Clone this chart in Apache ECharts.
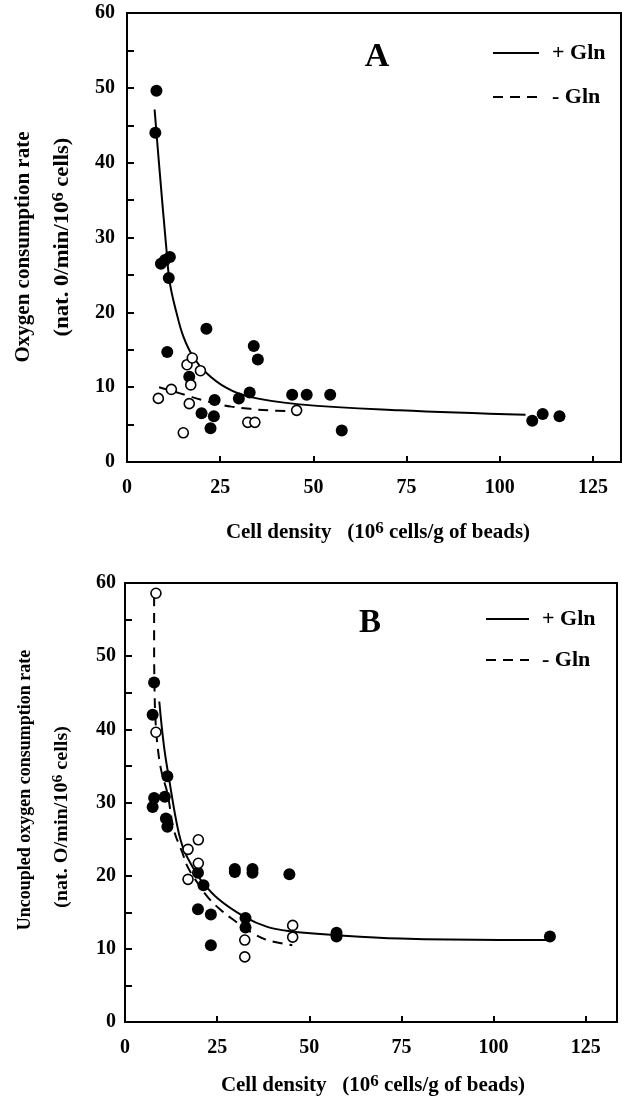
<!DOCTYPE html>
<html>
<head>
<meta charset="utf-8">
<script src="https://cdn.jsdelivr.net/npm/echarts/dist/echarts.min.js"></script>
<style>
  html, body { margin: 0; padding: 0; background: #fff; }
  #chart { width: 622px; height: 1097px; }
</style>
</head>
<body>
<div id="chart"></div>
<script>
// panel A : oxygen consumption rate
var aPlusX = [7.9, 7.6, 9.1, 10.2, 11.5, 11.2, 10.8, 21.3, 34.0, 35.1, 16.7, 23.5, 20.0, 23.3, 22.4, 30.0, 32.9, 44.3, 48.2, 54.5, 57.6, 108.7, 111.5, 116.0];
var aPlusY = [49.6, 44.0, 26.5, 27.0, 27.4, 24.6, 14.7, 17.8, 15.5, 13.7, 11.4, 8.3, 6.5, 6.1, 4.5, 8.5, 9.3, 9.0, 9.0, 9.0, 4.2, 5.5, 6.4, 6.1];
var aMinusX = [8.4, 11.9, 15.1, 16.1, 17.5, 19.7, 17.1, 16.7, 32.4, 34.3, 45.5];
var aMinusY = [8.5, 9.7, 3.9, 13.0, 13.9, 12.2, 10.3, 7.8, 5.3, 5.3, 6.9];
// fitted curves
var aFitPlusX = [7.4, 8.8, 10.6, 11.5, 13.3, 15.1, 17.7, 21.3, 26.7, 32.9, 46.3, 73.0, 106.9];
var aFitPlusY = [47.1, 38.6, 28.3, 23.9, 19.9, 16.8, 14.1, 11.9, 9.9, 8.7, 7.7, 6.9, 6.3];
var aFitMinusX = [8.6, 12, 16, 20, 24, 28, 33, 38, 44.5];
var aFitMinusY = [10.0, 9.5, 8.9, 8.3, 7.8, 7.4, 7.1, 6.9, 6.8];

// panel B : uncoupled oxygen consumption rate
var bPlusX = [7.9, 7.5, 11.5, 7.9, 7.5, 10.8, 11.1, 11.5, 19.8, 21.3, 19.8, 23.3, 23.3, 29.8, 29.8, 34.6, 34.6, 44.6, 32.7, 32.7, 57.4, 57.4, 115.3];
var bPlusY = [46.4, 42.0, 33.6, 30.6, 29.4, 30.8, 27.8, 26.7, 20.4, 18.7, 15.4, 14.7, 10.5, 20.5, 20.9, 20.4, 20.9, 20.2, 14.2, 12.9, 12.2, 11.7, 11.7];
var bMinusX = [8.4, 8.4, 17.1, 19.9, 19.9, 17.1, 32.5, 32.5, 45.5, 45.5];
var bMinusY = [58.6, 39.6, 23.6, 24.9, 21.7, 19.5, 11.2, 8.9, 13.2, 11.6];
var bFitPlusX = [9.3, 10.6, 12.0, 14.3, 16.0, 18.8, 20.6, 25.1, 32.3, 38.6, 44.9, 56.6, 74.7, 101.7, 114.4];
var bFitPlusY = [43.8, 37.6, 33.1, 26.5, 23.5, 20.8, 19.4, 16.9, 14.4, 13.0, 12.4, 11.9, 11.4, 11.2, 11.2];
var bFitMinusX = [7.9, 7.9, 8.0, 8.3, 9.0, 10.0, 11.5, 13.3, 15.6, 17.0, 19.7, 22.4, 26.0, 29.6, 34.1, 38.6, 45.4];
var bFitMinusY = [58.2, 52, 46, 41, 37, 34, 31.3, 26.2, 23.1, 21.2, 19.0, 17.1, 15.3, 13.9, 12.3, 11.2, 10.5];

var xTicks = [0, 25, 50, 75, 100, 125];
var yTicks = [0, 10, 20, 30, 40, 50, 60];

var FONT = 'Liberation Serif';

function pairs(xs, ys) {
  return xs.map(function (x, i) { return [x, ys[i]]; });
}

function xAxisOf(idx, max) {
  return {
    gridIndex: idx, type: 'value', min: 0, max: max, interval: 25,
    axisLine: { show: true, onZero: false, lineStyle: { color: '#000', width: 2 } },
    axisTick: { show: true, inside: true, length: 6, lineStyle: { color: '#000', width: 2 } },
    axisLabel: {
      margin: 16, color: '#000', fontFamily: FONT, fontWeight: 'bold', fontSize: 20,
      formatter: function (v) { return xTicks.indexOf(v) >= 0 ? String(v) : ''; }
    },
    splitLine: { show: false }
  };
}

function yAxisOf(idx, margin) {
  return {
    gridIndex: idx, type: 'value', min: 0, max: 60, interval: 10,
    axisLine: { show: true, lineStyle: { color: '#000', width: 2 } },
    axisTick: { show: true, inside: true, length: 7, lineStyle: { color: '#000', width: 2 } },
    minorTick: { show: true, splitNumber: 2, length: 7, lineStyle: { color: '#000', width: 2 } },
    axisLabel: {
      margin: margin, color: '#000', fontFamily: FONT, fontWeight: 'bold', fontSize: 20,
      formatter: function (v) { return yTicks.indexOf(v) >= 0 ? String(v) : ''; }
    },
    splitLine: { show: false }
  };
}

function filled(idx, name, xs, ys) {
  return {
    name: name, type: 'scatter', xAxisIndex: idx, yAxisIndex: idx,
    data: pairs(xs, ys), symbol: 'circle', symbolSize: 12,
    itemStyle: { color: '#000', opacity: 1 }, z: 4
  };
}

function hollow(idx, name, xs, ys) {
  return {
    name: name, type: 'scatter', xAxisIndex: idx, yAxisIndex: idx,
    data: pairs(xs, ys), symbol: 'circle', symbolSize: 10,
    itemStyle: { color: '#fff', borderColor: '#000', borderWidth: 1.6, opacity: 1 }, z: 5
  };
}

function curve(idx, name, xs, ys, dashed) {
  return {
    name: name, type: 'line', xAxisIndex: idx, yAxisIndex: idx, color: '#000',
    data: pairs(xs, ys), smooth: 0.4, symbol: 'none', showSymbol: false,
    lineStyle: { color: '#000', width: 2, type: dashed ? [10, 7] : 'solid' }, z: 3
  };
}

function legendAt(left, top, w, gap) {
  return {
    data: ['+ Gln', '- Gln'], orient: 'vertical', left: left, top: top,
    itemWidth: w, itemHeight: 14, itemGap: gap, padding: 0,
    selectedMode: false,
    itemStyle: { opacity: 0 },
    lineStyle: { width: 2 },
    textStyle: { color: '#000', fontFamily: FONT, fontWeight: 'bold', fontSize: 22, lineHeight: 22, padding: [0, 0, 0, 8] }
  };
}

function label(x, y, text, size, rot, sx) {
  return {
    type: 'text', x: x, y: y, rotation: rot || 0, scaleX: sx || 1,
    style: {
      text: text, fill: '#000', align: 'center', verticalAlign: 'middle',
      font: 'bold ' + size + 'px "' + FONT + '"',
      rich: {
        s: { fontFamily: FONT, fontWeight: 'bold', fontSize: Math.round(size * 0.8), verticalAlign: 'top', padding: [0, 0, size * 0.4, 0] }
      }
    }
  };
}

var chart = echarts.init(document.getElementById('chart'));

var option = {
  backgroundColor: '#fff',
  animation: false,
  grid: [
    { left: 127, top: 13, right: 1, height: 449, show: true, borderColor: '#000', borderWidth: 2, outerBoundsMode: 'none' },
    { left: 125, top: 583, right: 5, height: 439, show: true, borderColor: '#000', borderWidth: 2, outerBoundsMode: 'none' }
  ],
  xAxis: [xAxisOf(0, 132.5), xAxisOf(1, 133.5)],
  yAxis: [yAxisOf(0, 12), yAxisOf(1, 9)],
  legend: [legendAt(492, 42, 46, 22), legendAt(485, 608, 43, 19)],
  graphic: [
    label(377, 57, 'A', 34),
    label(370, 623, 'B', 33),
    label(24, 247, 'Oxygen consumption rate', 21, Math.PI / 2),
    label(63, 237, '(nat. 0/min/10{s|6} cells)', 21, Math.PI / 2, 1.08),
    label(378, 533, 'Cell density   (10{s|6} cells/g of beads)', 21),
    label(25, 790, 'Uncoupled oxygen consumption rate', 18, Math.PI / 2),
    label(62, 817, '(nat. O/min/10{s|6} cells)', 18, Math.PI / 2, 1.12),
    label(373, 1086, 'Cell density   (10{s|6} cells/g of beads)', 21)
  ],
  series: [
    curve(0, '+ Gln', aFitPlusX, aFitPlusY, false),
    curve(0, '- Gln', aFitMinusX, aFitMinusY, true),
    filled(0, 'A +Gln data', aPlusX, aPlusY),
    hollow(0, 'A -Gln data', aMinusX, aMinusY),
    curve(1, '+ Gln', bFitPlusX, bFitPlusY, false),
    curve(1, '- Gln', bFitMinusX, bFitMinusY, true),
    filled(1, 'B +Gln data', bPlusX, bPlusY),
    hollow(1, 'B -Gln data', bMinusX, bMinusY)
  ]
};

chart.setOption(option);
</script>
</body>
</html>
